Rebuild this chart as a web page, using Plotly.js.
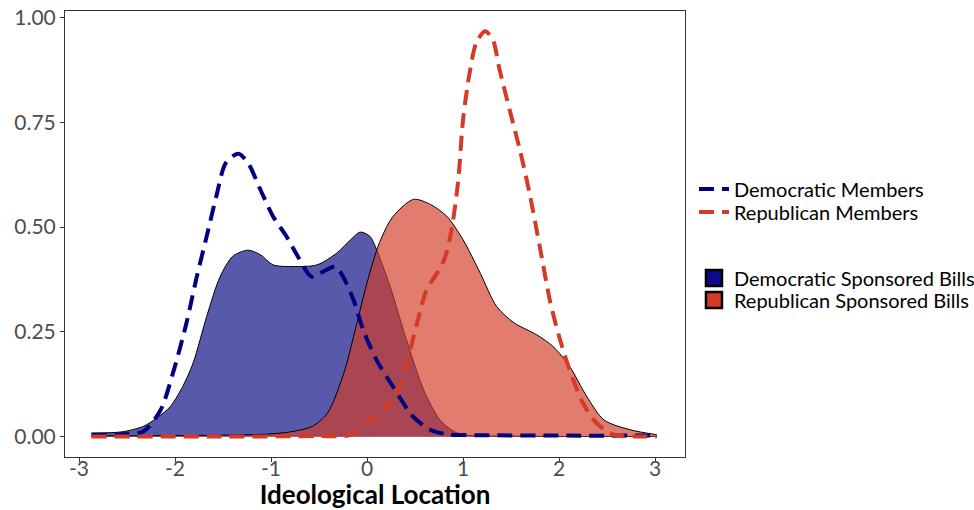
<!DOCTYPE html>
<html>
<head>
<meta charset="utf-8">
<script src="https://cdn.plot.ly/plotly-3.0.1.min.js"></script>
<style>html,body{margin:0;padding:0;background:#fff;}#chart{width:974px;height:510px;}</style>
</head>
<body>
<div id="chart"></div>
<script>
// Democratic Sponsored Bills (density)
const demBillsX = [-2.87,-2.55,-2.33,-2.19,-2.05,-1.92,-1.81,-1.67,-1.53,-1.40,-1.24,-1.11,-0.98,-0.77,-0.52,-0.31,-0.17,-0.07,0.03,0.10,0.24,0.41,0.59,0.76,0.89,1.00,1.50,2.00,2.50,3.02];
const demBillsY = [0.009,0.012,0.025,0.045,0.072,0.12,0.177,0.287,0.382,0.430,0.445,0.434,0.41,0.406,0.41,0.439,0.47,0.488,0.478,0.446,0.359,0.232,0.112,0.04,0.015,0.005,0.002,0.001,0.001,0.001];
// Republican Sponsored Bills (density)
const repBillsX = [-2.87,-2.0,-1.5,-1.0,-0.77,-0.57,-0.41,-0.24,-0.14,0.0,0.13,0.27,0.485,0.66,0.83,1.0,1.18,1.35,1.53,1.77,1.94,2.11,2.29,2.47,2.74,3.02];
const repBillsY = [0.002,0.003,0.004,0.007,0.013,0.025,0.057,0.153,0.239,0.367,0.463,0.525,0.566,0.554,0.526,0.47,0.39,0.311,0.272,0.243,0.215,0.168,0.096,0.04,0.017,0.005];
// Democratic Members (density)
const demMemX = [-2.87,-2.55,-2.33,-2.15,-2.02,-1.88,-1.78,-1.67,-1.57,-1.47,-1.34,-1.24,-1.11,-0.98,-0.84,-0.72,-0.58,-0.49,-0.33,-0.25,-0.14,-0.04,0.10,0.27,0.48,0.66,0.84,1.19,2.0,3.02];
const demMemY = [0.005,0.006,0.013,0.064,0.153,0.272,0.375,0.478,0.573,0.653,0.675,0.653,0.589,0.526,0.478,0.43,0.382,0.39,0.406,0.382,0.326,0.255,0.183,0.12,0.048,0.017,0.006,0.004,0.003,0.003];
// Republican Members (density)
const repMemX = [-2.87,-1.5,-0.5,-0.17,0.03,0.135,0.31,0.43,0.52,0.62,0.74,0.81,0.88,0.95,1.0,1.07,1.14,1.23,1.31,1.38,1.485,1.6,1.70,1.80,1.91,2.01,2.11,2.25,2.39,2.57,2.81,3.02];
const repMemY = [0.001,0.001,0.002,0.005,0.04,0.056,0.104,0.19,0.27,0.35,0.394,0.426,0.493,0.61,0.755,0.869,0.94,0.967,0.947,0.876,0.78,0.677,0.573,0.453,0.32,0.232,0.16,0.08,0.033,0.005,0.001,0.001];

const xTickVals = [-3,-2,-1,0,1,2,3];
const xTickText = ['-3','-2','-1','0','1','2','3'];
const yTickVals = [0,0.25,0.5,0.75,1];
const yTickText = ['0.00','0.25','0.50','0.75','1.00'];

const seriesNames = ['Democratic Members','Republican Members','Democratic Sponsored Bills','Republican Sponsored Bills'];

const NAVY = '#000080';
const RED = '#D33B27';
const dashPat = '15px,8px';

const traces = [
  {x: demBillsX, y: demBillsY, type: 'scatter', mode: 'lines', fill: 'tozeroy',
   fillcolor: 'rgba(0,0,128,0.65)', line: {color: '#000', width: 1, shape: 'spline', smoothing: 0.8},
   showlegend: false, hoverinfo: 'skip'},
  {x: repBillsX, y: repBillsY, type: 'scatter', mode: 'lines', fill: 'tozeroy',
   fillcolor: 'rgba(211,59,39,0.67)', line: {color: '#000', width: 1, shape: 'spline', smoothing: 0.8},
   showlegend: false, hoverinfo: 'skip'},
  {x: demMemX, y: demMemY, type: 'scatter', mode: 'lines', name: seriesNames[0],
   line: {color: NAVY, width: 4, dash: dashPat, shape: 'spline', smoothing: 0.8}, legend: 'legend'},
  {x: repMemX, y: repMemY, type: 'scatter', mode: 'lines', name: seriesNames[1],
   line: {color: RED, width: 4, dash: dashPat, shape: 'spline', smoothing: 0.8}, legend: 'legend2'},
  {x: [null], y: [null], type: 'scatter', mode: 'markers', name: seriesNames[2],
   marker: {symbol: 'square', size: 16, color: '#0a0a8a', line: {color: '#000', width: 2.5}}, legend: 'legend3'},
  {x: [null], y: [null], type: 'scatter', mode: 'markers', name: seriesNames[3],
   marker: {symbol: 'square', size: 16, color: RED, line: {color: '#000', width: 2.5}}, legend: 'legend4'}
];

const legFont = {family: 'Lato, sans-serif', size: 20, color: '#000'};
function leg(yc){
  return {xref: 'container', yref: 'container', x: 0.7125, xanchor: 'left', y: yc, yanchor: 'middle',
          bgcolor: 'rgba(0,0,0,0)', borderwidth: 0, font: legFont, itemsizing: 'trace'};
}

const layout = {
  width: 974, height: 510,
  margin: {l: 65, r: 289, t: 11, b: 53, autoexpand: false},
  paper_bgcolor: '#fff', plot_bgcolor: '#fff',
  showlegend: true,
  hovermode: false,
  xaxis: {
    range: [-3.146, 3.3125], tickvals: xTickVals, ticktext: xTickText,
    showgrid: false, zeroline: false, showline: true, mirror: true,
    linecolor: '#333', linewidth: 1, ticks: 'outside', ticklen: 4, tickcolor: '#333',
    ticklabelstandoff: -11,
    tickfont: {family: 'Lato, sans-serif', size: 21, color: '#4d4d4d'},
    title: {text: 'Ideological Location', standoff: 14,
            font: {family: 'Lato, sans-serif', size: 26, color: '#000', weight: 'bold'}}
  },
  yaxis: {
    range: [-0.048, 1.015], tickvals: yTickVals, ticktext: yTickText,
    showgrid: false, zeroline: false, showline: true, mirror: true,
    linecolor: '#333', linewidth: 1, ticks: 'outside', ticklen: 4, tickcolor: '#333',
    tickfont: {family: 'Lato, sans-serif', size: 21, color: '#4d4d4d'}
  },
  legend: leg(0.6294),
  legend2: leg(0.5843),
  legend3: leg(0.4549),
  legend4: leg(0.4118)
};

Plotly.newPlot('chart', traces, layout, {displayModeBar: false, staticPlot: true});
</script>
</body>
</html>
